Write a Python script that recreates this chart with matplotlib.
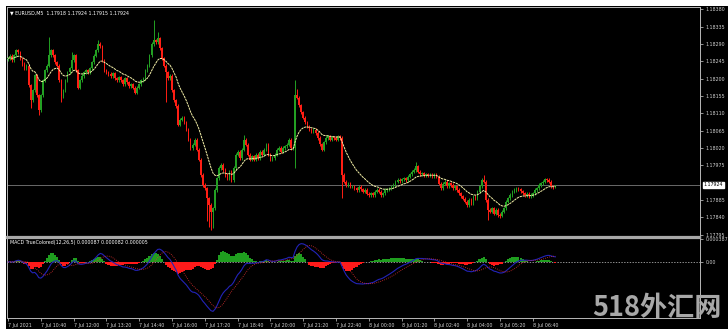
import numpy as np
import matplotlib
matplotlib.use("Agg")
import matplotlib.pyplot as plt
from matplotlib.patches import Rectangle

# ---------------- data ----------------
BASE = 1.17000          # closes are stored as points above this price
POINT = 0.00001

closes_pts = [
    1253, 1259, 1248, 1261, 1274, 1269, 1253, 1238, 1227, 1233,   # 0-9
    1183, 1144, 1170, 1209, 1157, 1118, 1157, 1196, 1222, 1233,   # 10-19
    1261, 1274, 1261, 1243, 1233, 1196, 1155, 1170, 1196, 1217,   # 20-29
    1227, 1248, 1261, 1222, 1176, 1196, 1207, 1217, 1222, 1217,   # 30-39
    1227, 1243, 1259, 1274, 1290, 1284, 1248, 1222, 1217, 1212,   # 40-49
    1207, 1214, 1201, 1196, 1204, 1196, 1186, 1201, 1191, 1181,   # 50-59
    1186, 1176, 1163, 1176, 1186, 1196, 1201, 1222, 1233, 1261,   # 60-69
    1290, 1300, 1295, 1305, 1279, 1253, 1233, 1217, 1201, 1207,   # 70-79
    1170, 1144, 1129, 1080, 1093, 1098, 1087, 1067, 1041, 1020,   # 80-89
    1028, 1041, 1015, 989, 950, 924, 916, 890, 872, 854,          # 90-99
    864, 911, 942, 968, 976, 963, 950, 942, 958, 937,             # 100-109
    968, 1002, 1010, 994, 1015, 1041, 1028, 1002, 989, 999,       # 110-119
    989, 1002, 994, 1010, 1002, 1015, 1028, 1002, 989, 994,       # 120-129
    1002, 1015, 1020, 1010, 1020, 1025, 1028, 1041, 1020, 1020,   # 130-139
    1157, 1150, 1131, 1113, 1098, 1087, 1077, 1067, 1064, 1067,   # 140-149
    1059, 1046, 1030, 1015, 1035, 1046, 1051, 1041, 1048, 1046,   # 150-159
    1041, 1051, 1046, 950, 932, 924, 929, 919, 921, 916,          # 160-169
    911, 919, 913, 906, 911, 901, 898, 903, 898, 906,             # 170-179
    911, 906, 898, 903, 911, 913, 916, 921, 924, 932,             # 180-189
    937, 934, 939, 942, 937, 945, 952, 958, 963, 973,             # 190-199
    958, 952, 955, 950, 952, 950, 952, 947, 950, 945,             # 200-209
    927, 916, 927, 932, 921, 929, 924, 916, 921, 911,             # 210-219
    903, 895, 888, 880, 872, 885, 877, 893, 890, 906,             # 220-229
    921, 937, 932, 885, 859, 854, 864, 849, 859, 846,             # 230-239
    844, 854, 864, 880, 890, 898, 906, 911, 916, 913,             # 240-249
    908, 903, 898, 901, 895, 898, 903, 911, 916, 924,             # 250-259
    929, 932, 939, 937, 932, 921, 918, 924,                       # 260-267
]
first_open_pts = 1250
wick_pts = 4                      # usual wick length beyond the body
high_pts = {20: 1308, 31: 1270, 44: 1300, 71: 1352, 73: 1322, 115: 1054,
            140: 1196, 141: 1172, 199: 984, 232: 950, 267: 924}
low_pts = {11: 1124, 15: 1105, 26: 1140, 77: 1139, 97: 830, 98: 815,
           99: 808, 100: 812, 140: 968, 163: 890, 234: 833, 240: 838, 267: 915}

ma_period = 14
macd_fast, macd_slow, macd_signal = 12, 26, 7

price_ticks = [1.17795, 1.17840, 1.17885, 1.17975, 1.18020, 1.18065, 1.18110,
               1.18155, 1.18200, 1.18245, 1.18290, 1.18335, 1.18380]
current_price = 1.17924
time_labels = ["7 Jul 2021", "7 Jul 10:40", "7 Jul 12:00", "7 Jul 13:20",
               "7 Jul 14:40", "7 Jul 16:00", "7 Jul 17:20", "7 Jul 18:40",
               "7 Jul 20:00", "7 Jul 21:20", "7 Jul 22:40", "8 Jul 00:00",
               "8 Jul 01:20", "8 Jul 02:40", "8 Jul 04:00", "8 Jul 05:20",
               "8 Jul 06:40"]
bars_per_label = 16
title_text = "\u25bc EURUSD,M5  1.17918 1.17924 1.17915 1.17924"
macd_text = "MACD TrueColored(12,26,5) 0.000087 0.000082 0.000005"
macd_top_label = 0.000387

# ---------------- derived series ----------------
close = BASE + np.array(closes_pts) * POINT
n = len(close)
opn = np.empty(n)
opn[0] = BASE + first_open_pts * POINT
opn[1:] = close[:-1]
high = np.maximum(opn, close) + wick_pts * POINT
low = np.minimum(opn, close) - wick_pts * POINT
for k, v in high_pts.items():
    high[k] = max(BASE + v * POINT, max(opn[k], close[k]))
for k, v in low_pts.items():
    low[k] = min(BASE + v * POINT, min(opn[k], close[k]))


def ema(x, p):
    a = 2.0 / (p + 1)
    out = np.empty_like(x)
    out[0] = x[0]
    for i in range(1, len(x)):
        out[i] = a * x[i] + (1 - a) * out[i - 1]
    return out


def sma(x, p):
    out = np.empty_like(x)
    for i in range(len(x)):
        out[i] = x[max(0, i - p + 1):i + 1].mean()
    return out


ma = ema(close, ma_period)
macd = ema(close, macd_fast) - ema(close, macd_slow)
signal = sma(macd, macd_signal)
hist = macd - signal

x = np.arange(n)

# ---------------- figure ----------------
W, H = 728, 333
fig = plt.figure(figsize=(W / 100, H / 100), dpi=100, facecolor="white")
fig.patches.append(Rectangle((6 / W, 1 - 329 / H), 1, 323 / H,
                             transform=fig.transFigure, facecolor="black",
                             edgecolor="none", zorder=-10))

L, R = 7 / W, 700 / W
ax = fig.add_axes([L, 1 - 237 / H, R - L, 230 / H], facecolor="black")
axm = fig.add_axes([L, 1 - 318 / H, R - L, 80 / H], facecolor="black", sharex=ax)

bull_c, bear_c = "#23a023", "#ff1e14"
cols = np.where(close >= opn, bull_c, bear_c)

ax.vlines(x, low, high, colors=cols, linewidth=0.7, zorder=2)
body_bottom = np.minimum(opn, close)
body_h = np.maximum(np.abs(close - opn), 0.3 * POINT)
ax.bar(x, body_h, bottom=body_bottom, width=0.8, color=cols, linewidth=0, zorder=3)
ax.plot(x, ma, color="#f2eea6", linewidth=0.7, linestyle=(0, (2.5, 0.7)), zorder=4)
ax.axhline(current_price, color="#7a7a7a", linewidth=0.6, zorder=1)

ax.set_xlim(-0.5, -0.5 + 693 / 2.05)
ax.set_ylim(BASE + 789 * POINT, BASE + 1386 * POINT)

ax.yaxis.tick_right()
ax.set_yticks(price_ticks)
ax.set_yticklabels([f"{v:.5f}" for v in price_ticks])
ax.tick_params(axis="y", colors="#d0d0d0", labelsize=3.4, length=2, width=0.5, pad=2)
ax.tick_params(axis="x", bottom=False, labelbottom=False)
for s in ax.spines.values():
    s.set_color("#b8b8b8")
    s.set_linewidth(0.7)
ax.spines["bottom"].set_linewidth(1.6)
ax.spines["bottom"].set_color("#a8a8a8")

ax.text(0.004, 0.985, title_text, transform=ax.transAxes, fontsize=3.4,
        color="white", va="top", ha="left")
ax.annotate(f"{current_price:.5f}", xy=(1.0, current_price),
            xycoords=("axes fraction", "data"), xytext=(2.5, 0),
            textcoords="offset points", fontsize=3.4, color="black",
            va="center", ha="left",
            bbox=dict(boxstyle="square,pad=0.15", fc="white", ec="white"))

# MACD panel
hcols = np.where(hist >= 0, "#1f9e1f", "#ff1a1a")
axm.bar(x, hist, width=1.0, color=hcols, linewidth=0, zorder=2)
axm.plot(x, macd, color="#2323b8", linewidth=0.8, zorder=3)
axm.plot(x, signal, color="#e03030", linewidth=0.6, linestyle=(0, (1, 1.5)), zorder=4)
axm.axhline(0, color="#c8c8c8", linewidth=0.5, linestyle=(0, (2, 2)), zorder=1)
axm.set_ylim(-0.000933, 0.00040)
axm.yaxis.tick_right()
axm.set_yticks([macd_top_label, 0.0])
axm.set_yticklabels([f"{macd_top_label:.6f}", "0.00"])
axm.tick_params(axis="y", colors="#d0d0d0", labelsize=3.4, length=2, width=0.5, pad=2)
for s in axm.spines.values():
    s.set_color("#b8b8b8")
    s.set_linewidth(0.7)
axm.spines["top"].set_linewidth(1.6)
axm.spines["top"].set_color("#a8a8a8")
axm.text(0.004, 0.975, macd_text, transform=axm.transAxes, fontsize=3.4,
         color="white", va="top", ha="left")

tick_pos = [i * bars_per_label for i in range(len(time_labels))]
axm.set_xticks(tick_pos)
axm.set_xticklabels(time_labels)
axm.tick_params(axis="x", colors="#d0d0d0", labelsize=3.4, length=2, width=0.5, pad=1.5)
for lab in axm.get_xticklabels():
    lab.set_ha("left")

fig.text(722 / W, 1 - 322 / H, "518外汇网", ha="right", va="bottom",
         fontsize=19.5, color="#a8a8a8", fontweight="bold",
         family=["Noto Sans CJK SC", "DejaVu Sans"], zorder=10)

fig.savefig("out.png", dpi=100, facecolor=fig.get_facecolor())
